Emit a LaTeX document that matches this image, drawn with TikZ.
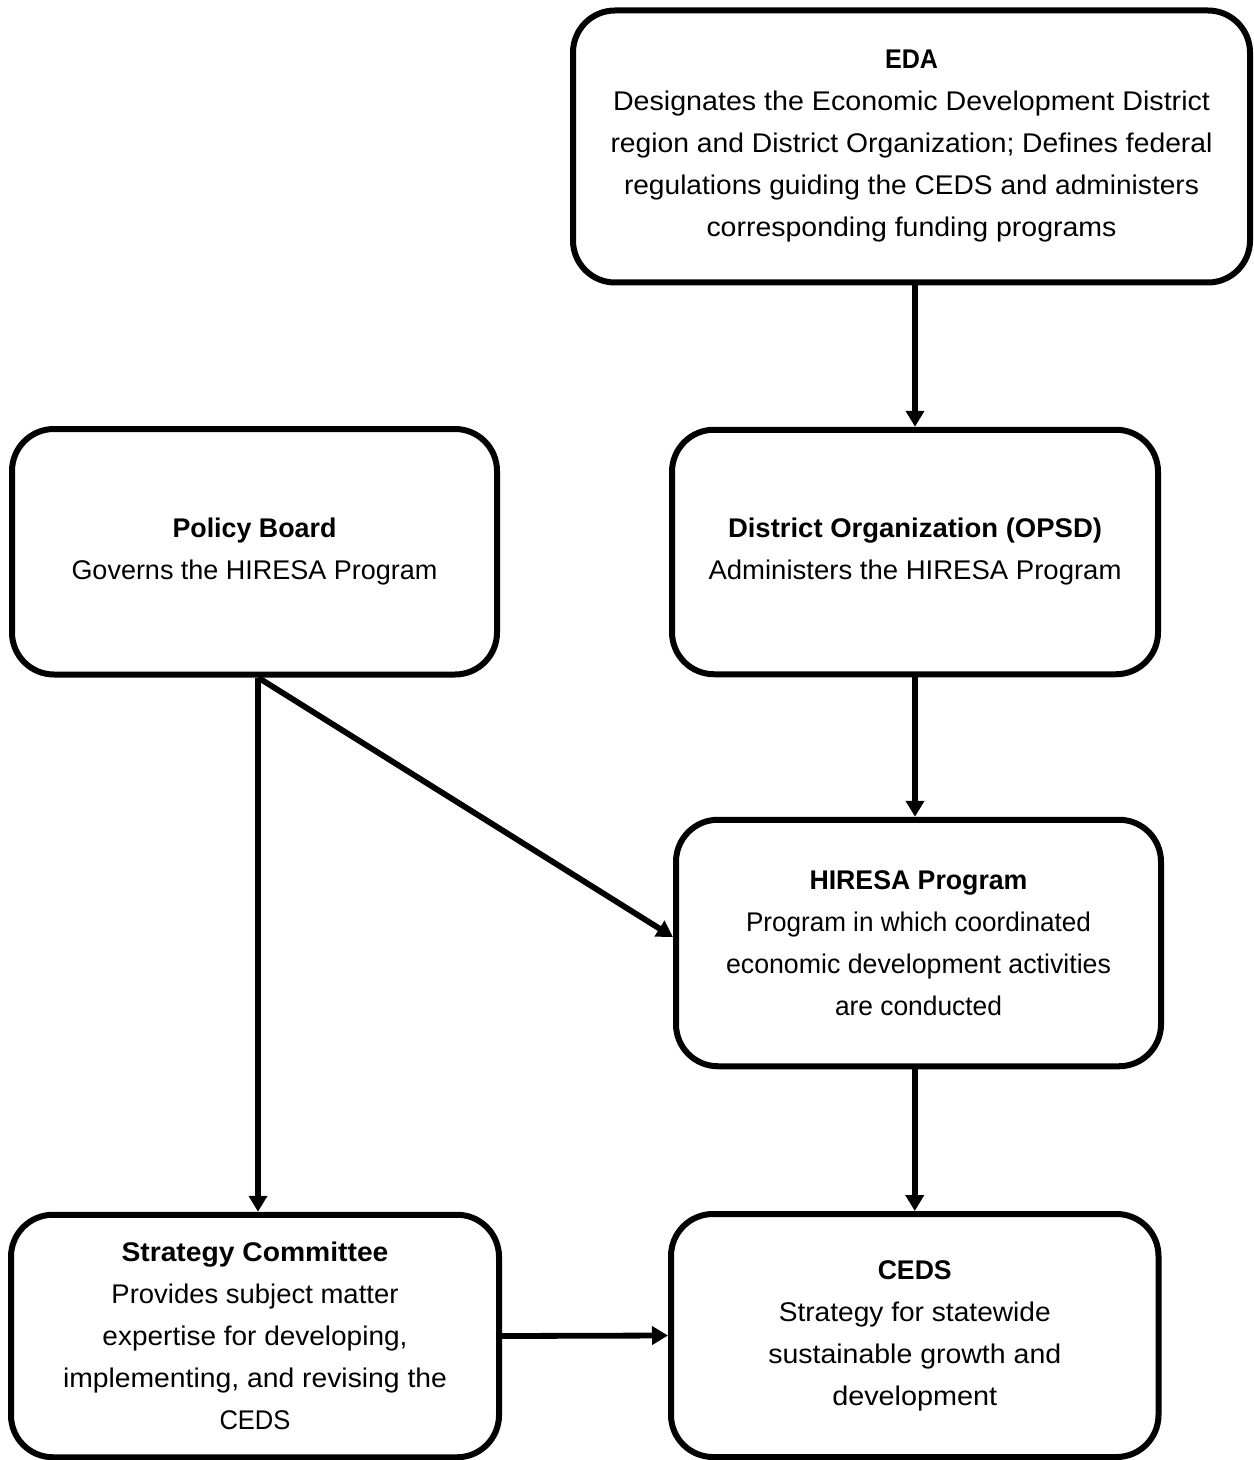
\documentclass[tikz,border=0pt]{standalone}
\usepackage{graphicx}
\usepackage{fontspec}
\setmainfont{Liberation Sans}
\usetikzlibrary{arrows.meta}
\newlength\fitlen
\newcommand\fitline[2]{\settowidth\fitlen{#2}\pgfmathsetmacro\fitx{#1*0.5pt/\fitlen}\scalebox{\fitx}[1]{#2}}
\begin{document}
\begin{tikzpicture}[x=0.5pt,y=-0.5pt,
  box/.style={draw, line width=3pt, rounded corners=21pt, inner sep=0pt, align=center,
    font=\fontsize{13.5}{21}\selectfont},
  arr/.style={line width=2.9pt, -{Triangle[length=8pt,width=9pt]}}]
\useasboundingbox[fill=white] (0,0) rectangle (1253,1460);

\node[box, minimum width=338.5pt, minimum height=136pt] (eda) at (911.5,146.5) {%
  \fitline{53}{\textbf{EDA}}\\
  \fitline{597}{Designates the Economic Development District}\\
  \fitline{602}{region and District Organization; Defines federal}\\
  \fitline{575}{regulations guiding the CEDS and administers}\\
  \fitline{410}{corresponding funding programs}};

\node[box, minimum width=242.5pt, minimum height=122.75pt] (policy) at (254.5,551.75) {%
  \fitline{164}{\textbf{Policy Board}}\\
  \fitline{366}{Governs the HIRESA Program}};

\node[box, minimum width=243pt, minimum height=122.25pt] (dist) at (915,552) {%
  \fitline{374}{\textbf{District Organization (OPSD)}}\\
  \fitline{413}{Administers the HIRESA Program}};

\node[box, minimum width=242.5pt, minimum height=123.25pt] (hiresa) at (918.5,943) {%
  \fitline{218}{\textbf{HIRESA Program}}\\
  \fitline{345}{Program in which coordinated}\\
  \fitline{385}{economic development activities}\\
  \fitline{167}{are conducted}};

\node[box, minimum width=244pt, minimum height=121.25pt] (strat) at (255,1336) {%
  \fitline{267}{\textbf{Strategy Committee}}\\
  \fitline{287}{Provides subject matter}\\
  \fitline{305}{expertise for developing,}\\
  \fitline{384}{implementing, and revising the}\\
  \fitline{71}{CEDS}};

\node[box, minimum width=243.75pt, minimum height=121.5pt] (ceds) at (914.75,1335.5) {%
  \fitline{74}{\textbf{CEDS}}\\
  \fitline{272}{Strategy for statewide}\\
  \fitline{293}{sustainable growth and}\\
  \fitline{165}{development}};

\draw[arr] (dist.north |- eda.south) -- (dist.north);
\draw[arr] (dist.south) -- (dist.south |- hiresa.north);
\draw[arr] (ceds.north |- hiresa.south) -- (ceds.north);
\draw[arr] ([xshift=1.75pt]policy.south) -- ([xshift=1.75pt]policy.south |- strat.north);
\draw[arr] ([xshift=1.75pt]policy.south) -- ([yshift=3pt]hiresa.west);
\draw[arr] (strat.east) -- (ceds.west);
\end{tikzpicture}
\end{document}
